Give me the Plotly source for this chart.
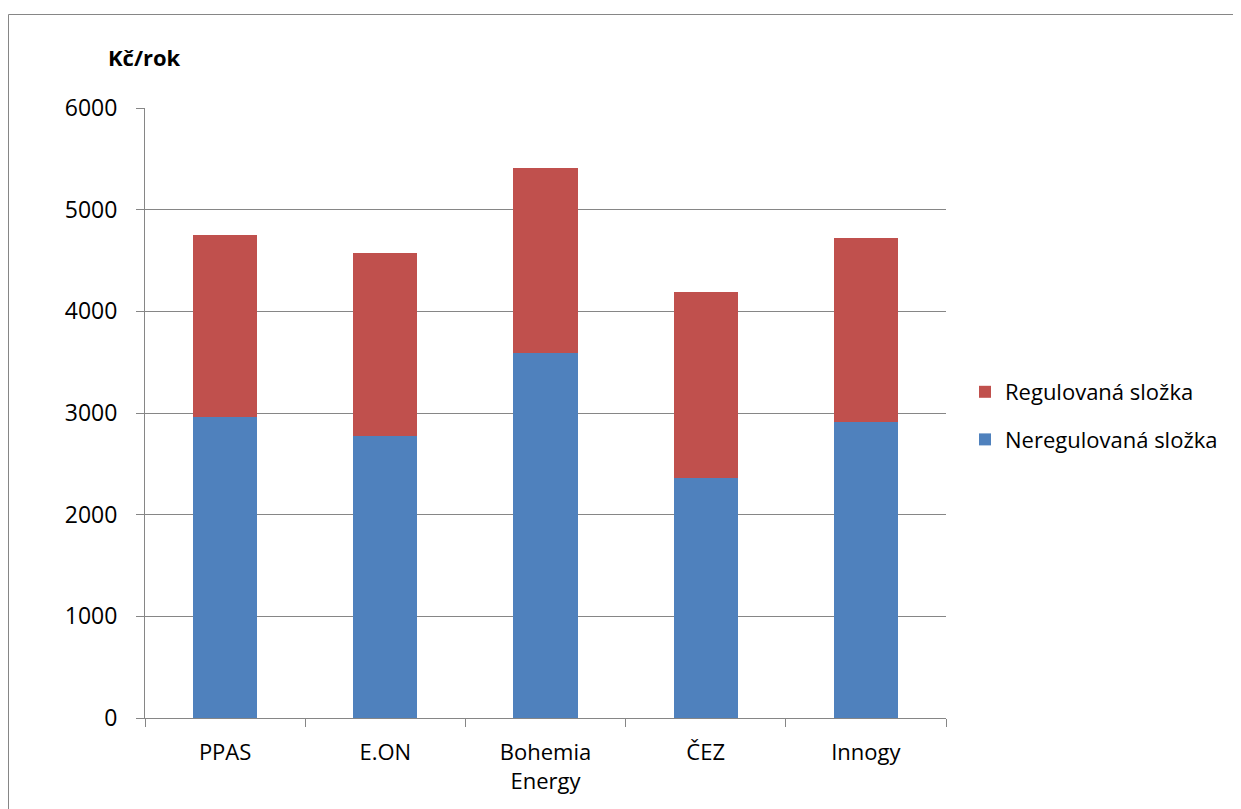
import plotly.graph_objects as go

categories = ["PPAS", "E.ON", "Bohemia<br>Energy", "ČEZ", "Innogy"]
neregulovana = [2958, 2777, 3587, 2361, 2911]
regulovana = [1793, 1797, 1820, 1826, 1807]
y_ticks = [0, 1000, 2000, 3000, 4000, 5000, 6000]

FONT = "Open Sans"
GRID = "#868686"

fig = go.Figure()
fig.add_trace(go.Bar(
    x=categories, y=neregulovana, name="Neregulovaná složka",
    marker=dict(color="#4F81BD", line=dict(width=0)),
    legendgroup="a", legendrank=2,
))
fig.add_trace(go.Bar(
    x=categories, y=regulovana, name="Regulovaná složka",
    marker=dict(color="#C0504D", line=dict(width=0)),
    legendgroup="b", legendrank=1,
))

# page body has an 8px margin; work in page pixels and convert
OFF = 8
W, H = 1241 - OFF, 809 - OFF
L, R, T, B = 145 - OFF, 946 - OFF, 108 - OFF, 718 - OFF
pw, ph = R - L, B - T

def px2x(px):
    return (px - OFF - L) / pw

def px2y(py):
    return (B - (py - OFF)) / ph

fig.update_layout(
    width=W, height=H,
    barmode="stack",
    bargap=0.6,
    paper_bgcolor="white",
    plot_bgcolor="white",
    margin=dict(l=L, r=W - R, t=T, b=H - B, pad=0),
    font=dict(family=FONT, size=20, color="black"),
    legend=dict(
        traceorder="grouped",
        x=px2x(965), y=px2y(416), xanchor="left", yanchor="middle",
        font=dict(family=FONT, size=22, color="black"),
        tracegroupgap=16,
        itemwidth=30,
        bgcolor="rgba(0,0,0,0)",
    ),
    xaxis=dict(
        showline=True, linecolor=GRID, linewidth=1,
        ticks="outside", ticklen=8, tickcolor=GRID, tickson="boundaries",
        showgrid=False,
        ticklabelstandoff=15,
        tickfont=dict(family=FONT, size=22, color="black"),
    ),
    yaxis=dict(
        range=[0, 6000], tickvals=y_ticks,
        showline=True, linecolor=GRID, linewidth=1,
        ticks="outside", ticklen=8, tickcolor=GRID,
        showgrid=True, gridcolor=GRID, gridwidth=1,
        zeroline=False,
        ticklabelstandoff=14,
        tickfont=dict(family=FONT, size=23, color="black"),
    ),
    annotations=[dict(
        text="<b>Kč/rok</b>", xref="paper", yref="paper",
        x=px2x(144), y=px2y(57), xanchor="center", yanchor="middle",
        showarrow=False, font=dict(family=FONT, size=22, color="black"),
    )],
    shapes=[dict(
        type="rect", xref="paper", yref="paper",
        x0=px2x(8.5), x1=px2x(1240.5), y0=px2y(900), y1=px2y(14.5),
        line=dict(color=GRID, width=1), fillcolor="rgba(0,0,0,0)",
        layer="below",
    )],
)

fig.write_html("out.html")
